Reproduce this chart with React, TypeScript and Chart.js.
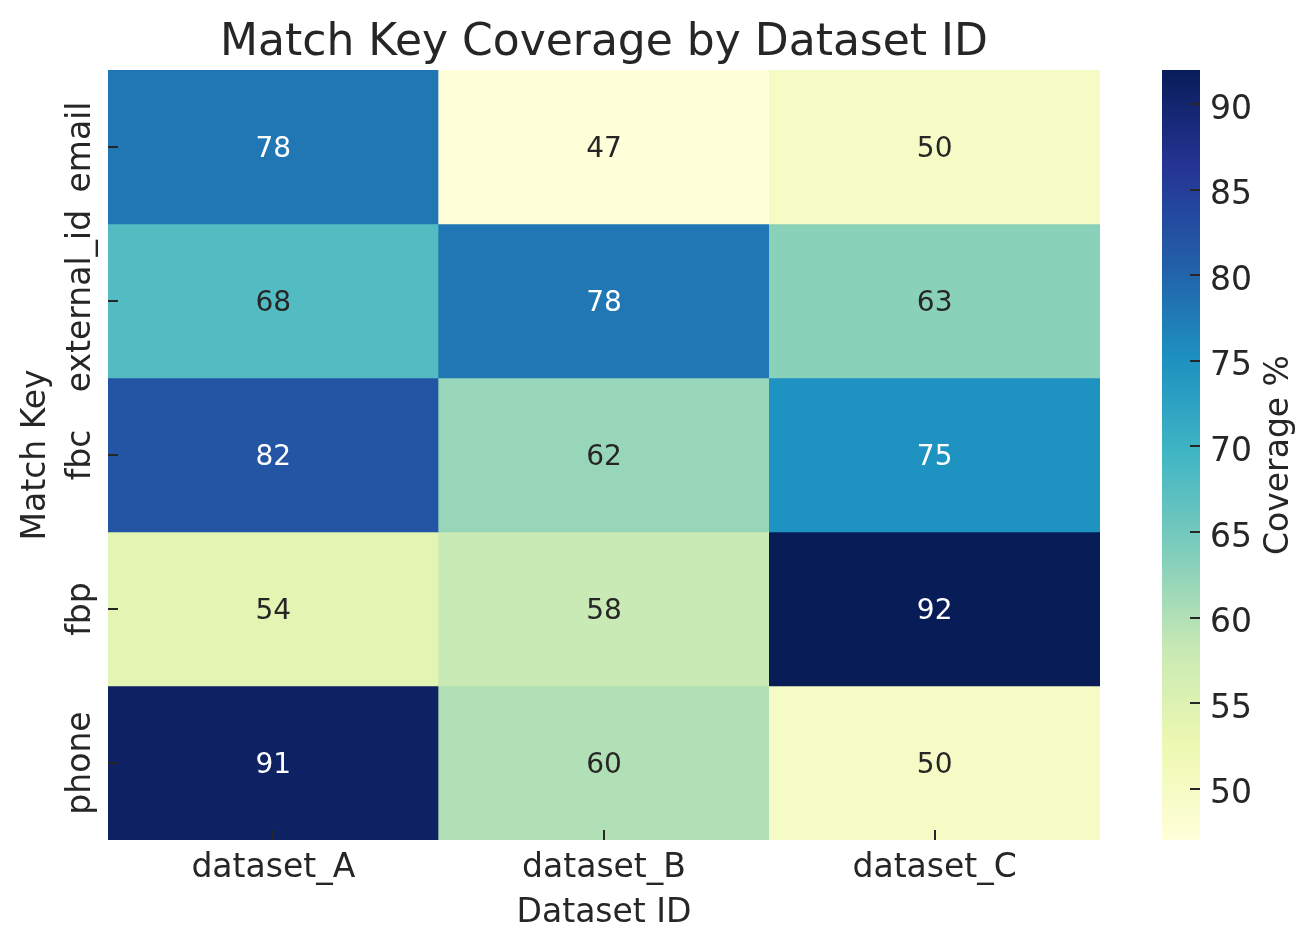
import React, { useEffect, useRef } from "react";
import { Chart, registerables } from "chart.js";

Chart.register(...registerables);

// ---- data ----
const TITLE = "Match Key Coverage by Dataset ID";
const X_LABEL = "Dataset ID";
const Y_LABEL = "Match Key";
const CB_LABEL = "Coverage %";
const DATASET_IDS = ["dataset_A", "dataset_B", "dataset_C"];
const MATCH_KEYS = ["email", "external_id", "fbc", "fbp", "phone"];
const EMAIL = [78, 47, 50];
const EXTERNAL_ID = [68, 78, 63];
const FBC = [82, 62, 75];
const FBP = [54, 58, 92];
const PHONE = [91, 60, 50];
const COVERAGE = [EMAIL, EXTERNAL_ID, FBC, FBP, PHONE];
const V_MIN = 47;
const V_MAX = 92;
const CB_TICKS = [50, 55, 60, 65, 70, 75, 80, 85, 90];

// YlGnBu (ColorBrewer, 9 stops)
const YLGNBU: [number, number, number][] = [
  [255, 255, 217],
  [237, 248, 177],
  [199, 233, 180],
  [127, 205, 187],
  [65, 182, 196],
  [29, 145, 192],
  [34, 94, 168],
  [37, 52, 148],
  [8, 29, 88],
];

const FONT = "'DejaVu Sans', 'Liberation Sans', sans-serif";
const TEXT = "#262626";

function cmap(v: number): [number, number, number] {
  let t = (v - V_MIN) / (V_MAX - V_MIN);
  t = Math.max(0, Math.min(1, t));
  const pos = t * (YLGNBU.length - 1);
  const i = Math.min(Math.floor(pos), YLGNBU.length - 2);
  const f = pos - i;
  const a = YLGNBU[i];
  const b = YLGNBU[i + 1];
  return [0, 1, 2].map((k) => a[k] + (b[k] - a[k]) * f) as [number, number, number];
}
const rgb = (c: [number, number, number]) =>
  `rgb(${Math.round(c[0])},${Math.round(c[1])},${Math.round(c[2])})`;

function luminance(c: [number, number, number]) {
  const lin = c.map((x) => {
    const s = x / 255;
    return s <= 0.03928 ? s / 12.92 : Math.pow((s + 0.055) / 1.055, 2.4);
  });
  return 0.2126 * lin[0] + 0.7152 * lin[1] + 0.0722 * lin[2];
}

const zeroPad = (s: any) => {
  s.paddingTop = 0;
  s.paddingBottom = 0;
  s.paddingLeft = 0;
  s.paddingRight = 0;
};

function rotatedText(ctx: CanvasRenderingContext2D, text: string, x: number, y: number) {
  ctx.save();
  ctx.translate(x, y);
  ctx.rotate(-Math.PI / 2);
  ctx.fillText(text, 0, 0);
  ctx.restore();
}

const decorPlugin = {
  id: "heatDecor",
  afterDatasetsDraw(chart: any) {
    const ctx: CanvasRenderingContext2D = chart.ctx;
    ctx.save();
    ctx.font = `28px ${FONT}`;
    ctx.textAlign = "center";
    ctx.textBaseline = "alphabetic";
    chart.data.datasets.forEach((_ds: any, di: number) => {
      const meta = chart.getDatasetMeta(di);
      meta.data.forEach((el: any, ci: number) => {
        const v = COVERAGE[di][ci];
        const p = el.getProps(["x", "y", "base"], true);
        ctx.fillStyle = luminance(cmap(v)) > 0.408 ? TEXT : "#ffffff";
        ctx.fillText(String(v), p.x, (p.y + p.base) / 2 + 9.5);
      });
    });
    ctx.restore();
  },
  afterDraw(chart: any) {
    const ctx: CanvasRenderingContext2D = chart.ctx;
    const area = chart.chartArea;
    const xs = chart.scales.x;
    const ys = chart.scales.y;
    const cb = chart.scales.cb;
    const midX = (area.left + area.right) / 2;
    const midY = (area.top + area.bottom) / 2;
    ctx.save();

    // colorbar
    const cbX = cb.left + 62;
    const cbW = 38;
    const yBot = cb.getPixelForValue(V_MIN);
    const yTop = cb.getPixelForValue(V_MAX);
    const grad = ctx.createLinearGradient(0, yBot, 0, yTop);
    YLGNBU.forEach((c, i) => grad.addColorStop(i / (YLGNBU.length - 1), rgb(c)));
    ctx.fillStyle = grad;
    ctx.fillRect(cbX, yTop, cbW, yBot - yTop);

    // tick marks (inward)
    ctx.strokeStyle = TEXT;
    ctx.lineWidth = 2;
    ctx.beginPath();
    xs.ticks.forEach((_t: any, i: number) => {
      const px = Math.round(xs.getPixelForTick(i));
      ctx.moveTo(px, area.bottom - 10);
      ctx.lineTo(px, area.bottom);
    });
    ys.ticks.forEach((_t: any, i: number) => {
      const py = Math.round(ys.getPixelForTick(i));
      ctx.moveTo(area.left, py);
      ctx.lineTo(area.left + 10, py);
    });
    cb.ticks.forEach((_t: any, i: number) => {
      const py = Math.round(cb.getPixelForTick(i));
      ctx.moveTo(cbX + cbW - 10, py);
      ctx.lineTo(cbX + cbW, py);
    });
    ctx.stroke();

    ctx.fillStyle = TEXT;
    ctx.textBaseline = "alphabetic";

    // title
    ctx.font = `44px ${FONT}`;
    ctx.textAlign = "center";
    ctx.fillText(TITLE, midX, area.top - 15);

    ctx.font = `33px ${FONT}`;
    // x tick labels
    xs.ticks.forEach((_t: any, i: number) => {
      ctx.fillText(DATASET_IDS[i], xs.getPixelForTick(i), area.bottom + 36.5);
    });
    // x title
    ctx.fillText(X_LABEL, midX, area.bottom + 81.5);

    // y tick labels, rotated
    ys.ticks.forEach((t: any, i: number) => {
      rotatedText(ctx, MATCH_KEYS[Math.floor(t.value)], ys.right - 18, ys.getPixelForTick(i));
    });
    // y title
    rotatedText(ctx, Y_LABEL, ys.left + 45, midY);

    // colorbar label
    rotatedText(ctx, CB_LABEL, cb.left + 188, midY);

    // colorbar tick labels
    ctx.textAlign = "left";
    cb.ticks.forEach((t: any, i: number) => {
      ctx.fillText(String(t.value), cbX + cbW + 10, cb.getPixelForTick(i) + 14.5);
    });

    ctx.restore();
  },
};

export default function App() {
  const ref = useRef<HTMLCanvasElement | null>(null);

  useEffect(() => {
    if (!ref.current) return;
    const datasets = MATCH_KEYS.map((key, r) => ({
      label: key,
      data: DATASET_IDS.map(() => 1),
      backgroundColor: COVERAGE[r].map((v) => rgb(cmap(v))),
      borderWidth: 0,
      barPercentage: 1,
      categoryPercentage: 1,
      stack: "heat",
    }));

    const chart = new Chart(ref.current, {
      type: "bar",
      data: { labels: DATASET_IDS, datasets },
      plugins: [decorPlugin],
      options: {
        responsive: false,
        animation: false,
        devicePixelRatio: 1,
        layout: { padding: { top: 70, left: 0, right: 0, bottom: 0 } },
        plugins: {
          legend: { display: false },
          tooltip: { enabled: false },
          title: { display: false },
        },
        scales: {
          x: {
            type: "category",
            stacked: true,
            grid: { display: false },
            border: { display: false },
            ticks: { display: false },
            afterFit: (s: any) => {
              s.height = 108;
              zeroPad(s);
            },
          },
          y: {
            type: "linear",
            stacked: true,
            reverse: true,
            min: 0,
            max: MATCH_KEYS.length,
            grid: { display: false },
            border: { display: false },
            ticks: { display: false },
            afterBuildTicks: (s: any) => {
              s.ticks = MATCH_KEYS.map((_k, i) => ({ value: i + 0.5 }));
            },
            afterFit: (s: any) => {
              s.width = 108;
              zeroPad(s);
            },
          },
          cb: {
            type: "linear",
            position: "right",
            min: V_MIN,
            max: V_MAX,
            grid: { display: false, drawTicks: false },
            border: { display: false },
            ticks: { display: false },
            afterBuildTicks: (s: any) => {
              s.ticks = CB_TICKS.map((v) => ({ value: v }));
            },
            afterFit: (s: any) => {
              s.width = 216;
              zeroPad(s);
            },
          },
        },
      } as any,
    });
    return () => chart.destroy();
  }, []);

  return (
    <div style={{ position: "absolute", left: 0, top: 0, width: 1316, height: 948, background: "#fff" }}>
      <canvas ref={ref} width={1316} height={948} style={{ display: "block", width: 1316, height: 948 }} />
    </div>
  );
}
